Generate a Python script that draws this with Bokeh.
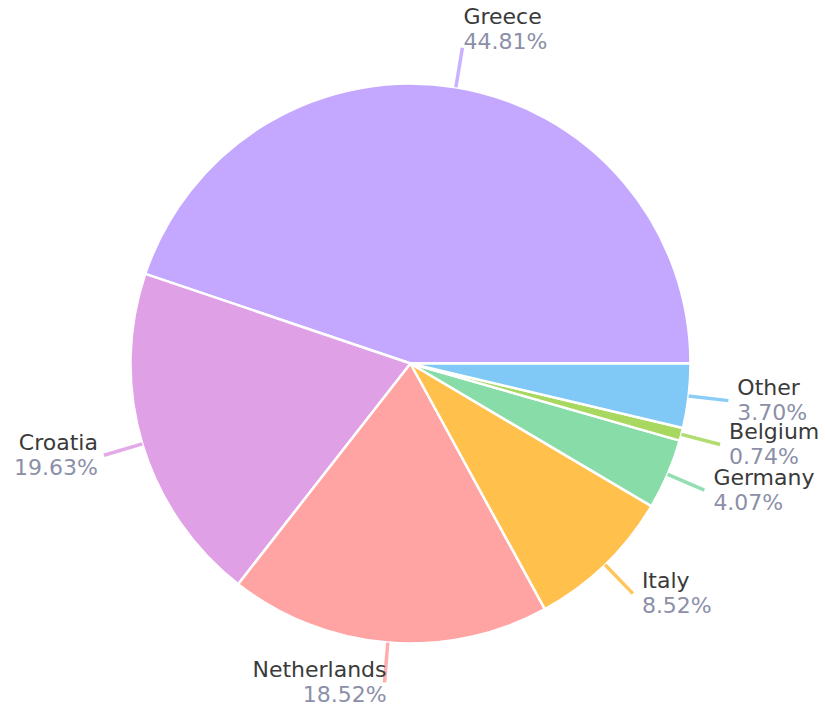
import math
from bokeh.plotting import figure
from bokeh.models import Range1d, ColumnDataSource
from bokeh.core.properties import value
from bokeh.embed import file_html
from bokeh.resources import INLINE

countries = ["Greece", "Croatia", "Netherlands", "Italy", "Germany", "Belgium", "Other"]
shares = [44.81, 19.63, 18.52, 8.52, 4.07, 0.74, 3.70]
colors = ["#c4a8ff", "#e0a0e6", "#ffa3a3", "#ffc04c", "#88dca8", "#a8d860", "#80c8f6"]

W, H = 825, 715
cx, cy = 410, H - 363
R = 280
R_OUT = 320

total = sum(shares)
starts, ends, mids = [], [], []
acc = 0.0
for s in shares:
    a0 = acc / total * 2 * math.pi
    acc += s
    a1 = acc / total * 2 * math.pi
    starts.append(a0)
    ends.append(a1)
    mids.append((a0 + a1) / 2)

p = figure(width=W, height=H, output_backend="svg", toolbar_location=None,
           x_range=Range1d(0, W), y_range=Range1d(0, H), min_border=0)
p.axis.visible = False
p.grid.visible = False
p.outline_line_color = None
p.background_fill_color = "white"

src = ColumnDataSource(dict(start=starts, end=ends, color=colors))
p.wedge(x=cx, y=cy, radius=R, start_angle="start", end_angle="end",
        fill_color="color", line_color="white", line_width=2.5, source=src)

lx0, ly0, lx1, ly1 = [], [], [], []
nx, ny, px, py, align = [], [], [], [], []
for m in mids:
    c, s = math.cos(m), math.sin(m)
    x0, y0 = cx + R * c, cy + R * s
    x1, y1 = cx + R_OUT * c, cy + R_OUT * s
    lx0.append(x0); ly0.append(y0); lx1.append(x1); ly1.append(y1)
    if abs(c) < 0.2:
        if s > 0:
            tx, al, yc = x1 + 1, "left", y1 + 18
        else:
            tx, al, yc = x1 + 2, "right", y1
    elif c > 0:
        tx, al, yc = x1 + 9, "left", y1
    else:
        tx, al, yc = x1 - 6, "right", y1
    nx.append(tx); px.append(tx); align.append(al)
    ny.append(yc + 13); py.append(yc - 12)

lsrc = ColumnDataSource(dict(x0=lx0, y0=ly0, x1=lx1, y1=ly1, color=colors))
p.segment(x0="x0", y0="y0", x1="x1", y1="y1", line_color="color", line_width=3.5,
          line_alpha=0.9, source=lsrc)

tsrc = ColumnDataSource(dict(nx=nx, ny=ny, px=px, py=py, align=align,
                             name=countries, pct=[f"{v:.2f}%" for v in shares]))
p.text(x="nx", y="ny", text="name", text_align="align", text_baseline="middle",
       text_font=value("DejaVu Sans"), text_font_size="22px", text_color="#3a3a3a", source=tsrc)
p.text(x="px", y="py", text="pct", text_align="align", text_baseline="middle",
       text_font=value("DejaVu Sans"), text_font_size="22px", text_color="#8c8fa8", source=tsrc)

open("out.html", "w").write(file_html(p, INLINE))
